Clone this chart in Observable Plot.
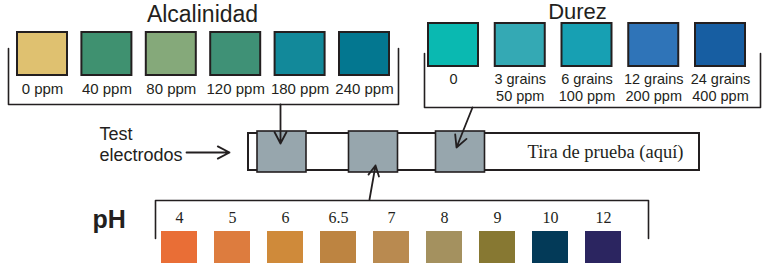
<!DOCTYPE html>
<html><head><meta charset="utf-8">
<script src="https://cdn.jsdelivr.net/npm/d3@7"></script>
<script src="https://cdn.jsdelivr.net/npm/@observablehq/plot@0.6"></script>
<style>body{margin:0;background:#fff} svg{display:block}</style>
</head><body><div id="chart"></div>
<script>
// ---- data ----
const alkTitle = "Alcalinidad";
const alkLabels = ["0 ppm","40 ppm","80 ppm","120 ppm","180 ppm","240 ppm"];
const alkColors = ["#dfc170","#3f9170","#85a97a","#3f9176","#12899a","#037790"];

const hardTitle = "Durez";
const hardGrains = ["0","3 grains","6 grains","12 grains","24 grains"];
const hardPpm = ["","50 ppm","100 ppm","200 ppm","400 ppm"];
const hardColors = ["#0ab9b1","#34a9b4","#17a0b3","#2f74b8","#175ea2"];

const phTitle = "pH";
const phLabels = ["4","5","6","6.5","7","8","9","10","12"];
const phColors = ["#e96e36","#dd7c3e","#cf8a3a","#bd8441","#b98a50","#a4915f","#877832","#033a58","#2b2560"];

const padTests = ["Alcalinidad","pH","Durez"];
const stripLabel = "Tira de prueba (aquí)";
const electrodeLabel = ["Test","electrodos"];

// ---- layout (in code) ----
const W = 770, H = 266;
const INK = "#231f20";
const SANS = "Liberation Sans, Arial, sans-serif";
const SERIF = "Liberation Serif, Times New Roman, serif";
const spread = (n, a, b) => d3.range(n).map(i => a + (b - a) * i / (n - 1));

const L = {
  alk: {c0: 42, c1: 364, w: 50, top: 32, bot: 75, label: 93, tx: 202, ty: 21, br: [8, 398, 48, 104]},
  hard: {c0: 453, c1: 720, w: 50, top: 23, bot: 66, l1: 83, l2: 100, tx: 577, ty: 18, br: [424, 760, 53, 107]},
  ph: {c0: 179, c1: 603, w: 36, top: 231, bot: 263, label: 222, br: [155, 648, 238, 200]},
  strip: {x1: 248, x2: 699, y1: 133, y2: 170},
  pads: {centers: [281.5, 373, 460], w: 49, y1: 131, y2: 172}
};

const alkX = spread(alkLabels.length, L.alk.c0, L.alk.c1);
const alk = alkLabels.map((label, i) => ({label, color: alkColors[i], cx: alkX[i]}));
const hardX = spread(hardGrains.length, L.hard.c0, L.hard.c1);
const hard = hardGrains.map((g, i) => ({g, p: hardPpm[i], color: hardColors[i], cx: hardX[i]}));
const phX = spread(phLabels.length, L.ph.c0, L.ph.c1);
const ph = phLabels.map((label, i) => ({label, color: phColors[i], cx: phX[i]}));
const pads = padTests.map((t, i) => ({t, cx: L.pads.centers[i]}));

const bracket = (id, [a, b, inner, outer]) => [
  {id, x: a, y: inner}, {id, x: a, y: outer}, {id, x: b, y: outer}, {id, x: b, y: inner}
];
const brackets = [...bracket("alk", L.alk.br), ...bracket("hard", L.hard.br), ...bracket("ph", L.ph.br)];

const arrows = [
  {x1: L.pads.centers[0] - 1.5, y1: L.alk.br[3], x2: L.pads.centers[0] - 1.5, y2: 143},
  {x1: 472, y1: L.hard.br[3], x2: 456, y2: 147},
  {x1: 369, y1: L.ph.br[3] - 1, x2: 375, y2: 165},
  {x1: 186, y1: 152, x2: 229, y2: 152}
];

const txt = (data, o) => Plot.text(data, {fill: INK, lineAnchor: "bottom", fontFamily: SANS, ...o});

const chart = Plot.plot({
  width: W, height: H, margin: 0,
  x: {domain: [0, W], axis: null},
  y: {domain: [0, H], reverse: true, axis: null},
  color: {type: "identity"},
  style: {fontFamily: SANS, background: "#fff"},
  marks: [
    // brackets
    Plot.line(brackets, {x: "x", y: "y", z: "id", stroke: INK, strokeWidth: 1.6}),
    // alkalinity
    Plot.rect(alk, {x1: d => d.cx - L.alk.w / 2, x2: d => d.cx + L.alk.w / 2, y1: () => L.alk.top, y2: () => L.alk.bot, fill: "color", stroke: INK, strokeWidth: 2}),
    txt(alk, {x: "cx", y: () => L.alk.label, text: "label", fontSize: 15}),
    txt([alkTitle], {x: () => L.alk.tx, y: () => L.alk.ty, text: d => d, fontSize: 23}),
    // hardness
    Plot.rect(hard, {x1: d => d.cx - L.hard.w / 2, x2: d => d.cx + L.hard.w / 2, y1: () => L.hard.top, y2: () => L.hard.bot, fill: "color", stroke: INK, strokeWidth: 2}),
    txt(hard, {x: "cx", y: () => L.hard.l1, text: "g", fontSize: 14.5}),
    txt(hard, {x: "cx", y: () => L.hard.l2, text: "p", fontSize: 14.5}),
    txt([hardTitle], {x: () => L.hard.tx, y: () => L.hard.ty, text: d => d, fontSize: 22}),
    // strip
    Plot.rect([stripLabel], {x1: () => L.strip.x1, x2: () => L.strip.x2, y1: () => L.strip.y1, y2: () => L.strip.y2, fill: "#fff", stroke: INK, strokeWidth: 2}),
    Plot.rect(pads, {x1: d => d.cx - L.pads.w / 2, x2: d => d.cx + L.pads.w / 2, y1: () => L.pads.y1, y2: () => L.pads.y2, fill: "#97a6ad", stroke: INK, strokeWidth: 1.6}),
    txt([stripLabel], {x: () => 683, y: () => 157, text: d => d, textAnchor: "end", fontFamily: SERIF, fontSize: 18.5}),
    txt(electrodeLabel, {x: () => 99, y: (d, i) => 139 + i * 21, text: d => d, textAnchor: "start", fontSize: 18}),
    // arrows
    Plot.arrow(arrows, {x1: "x1", y1: "y1", x2: "x2", y2: "y2", stroke: INK, strokeWidth: 1.8, headLength: 11, headAngle: 55}),
    // pH
    Plot.rect(ph, {x1: d => d.cx - L.ph.w / 2, x2: d => d.cx + L.ph.w / 2, y1: () => L.ph.top, y2: () => L.ph.bot, fill: "color"}),
    txt(ph, {x: "cx", y: () => L.ph.label, text: "label", fontFamily: SERIF, fontSize: 16}),
    txt([phTitle], {x: () => 92, y: () => 227, text: d => d, textAnchor: "start", fontSize: 25, fontWeight: "bold"})
  ]
});
document.getElementById("chart").append(chart);
</script>
</body></html>
